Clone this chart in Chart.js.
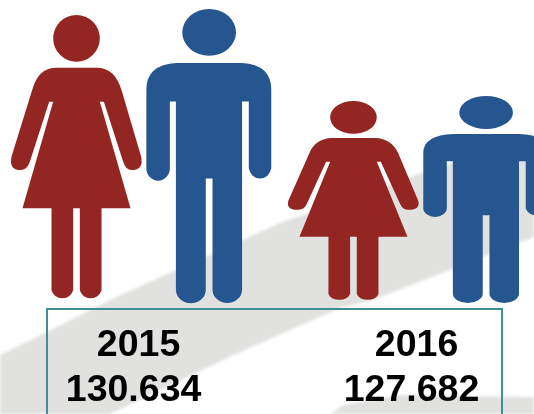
<!DOCTYPE html>
<html><head><meta charset="utf-8">
<style>html,body{margin:0;padding:0;background:#fff}#w{width:534px;height:414px;position:relative;overflow:hidden}canvas{display:block}</style>
<script src="https://cdn.jsdelivr.net/npm/chart.js@4"></script>
</head><body><div id="w"><canvas id="c" width="558" height="414"></canvas></div>
<script>
const categories = ["2015", "2016"];
const totalLabels = ["130.634", "127.682"];
// figure extents: [feet, top of head], in picture units
const women = [[3, 288], [2, 202]];
const men = [[0, 294], [0, 207]];

const womanColor = "#932522";
const manColor = "#25568f";
const bandColor = "#e1e1e0";
const frameColor = "#3f9095";

const womanIcon = { box: [33, 45, 393, 855], path: new Path2D(
  "M165 203L295 203Q345 205 365 270L424 470Q432 510 395 510Q378 510 370 485L312 305L300 305L392 625L305 625L305 870A33 30 0 0 1 240 870L240 625L220 625L220 870A33 30 0 0 1 155 870L155 625L68 625L160 305L148 305L90 485Q82 510 62 510Q27 510 35 470L97 270Q115 205 165 203Z" +
  "M160 115a70 70 0 1 0 140 0a70 70 0 1 0 -140 0Z") };
const manIcon = { box: [440, 28, 372, 880], path: new Path2D(
  "M530 190L725 190Q812 195 812 270L812 505A34 37 0 0 1 745 505L745 305L725 305L725 868A44 40 0 0 1 637 868L637 535L617 535L617 868A44 40 0 0 1 528 868L528 305L510 305L510 505A35 37 0 0 1 440 505L440 270Q440 195 530 190Z" +
  "M547 98a80 70 0 1 0 160 0a80 70 0 1 0 -160 0Z") };

const upperBand = [[0,355],[47,332],[110,300],[280,223],[534,133],[534,237],[373,300],[340,308],[238,353],[110,414],[0,414]];
const lowerBand = [[330,414],[343,405],[400,395],[534,397],[534,414]];

function fillPoly(ctx, pts) {
  ctx.beginPath();
  pts.forEach((p, i) => i ? ctx.lineTo(p[0], p[1]) : ctx.moveTo(p[0], p[1]));
  ctx.closePath();
  ctx.fill();
}

const backdrop = {
  id: "backdrop",
  beforeDraw(chart) {
    const ctx = chart.ctx;
    ctx.save();
    ctx.fillStyle = "#fff";
    ctx.fillRect(0, 0, chart.width, chart.height);
    ctx.filter = "blur(1.5px)";
    ctx.fillStyle = bandColor;
    fillPoly(ctx, upperBand);
    fillPoly(ctx, lowerBand);
    ctx.restore();
  }
};

const pictograms = {
  id: "pictograms",
  afterDatasetsDraw(chart) {
    const ctx = chart.ctx;
    chart.data.datasets.forEach((ds, di) => {
      chart.getDatasetMeta(di).data.forEach(bar => {
        const [bx, by, bw, bh] = ds.icon.box;
        const left = bar.x - bar.width / 2;
        const h = bar.base - bar.y;
        ctx.save();
        ctx.filter = "blur(0.6px)";
        ctx.translate(left, bar.y);
        ctx.scale(bar.width / bw, h / bh);
        ctx.translate(-bx, -by);
        ctx.fillStyle = ds.iconColor;
        ctx.fill(ds.icon.path);
        ctx.restore();
      });
    });
    // frame and labels
    ctx.save();
    ctx.strokeStyle = frameColor;
    ctx.lineWidth = 2;
    ctx.strokeRect(47, 309, 455, 130);
    ctx.fillStyle = "#000";
    ctx.font = "bold 37.5px 'Liberation Sans', Arial, sans-serif";
    ctx.textAlign = "center";
    ctx.textBaseline = "alphabetic";
    const xs = chart.scales.x;
    categories.forEach((c, i) => {
      const cx = xs.getPixelForValue(i);
      ctx.fillText(c, cx - 4 + i, 356);
      ctx.fillText(totalLabels[i], cx - 9 + i, 401);
    });
    ctx.restore();
  }
};

new Chart(document.getElementById("c"), {
  type: "bar",
  data: {
    labels: categories,
    datasets: [
      { label: "Women", data: women, icon: womanIcon, iconColor: womanColor, backgroundColor: "rgba(0,0,0,0)", barPercentage: 0.989, categoryPercentage: 0.9567 },
      { label: "Men", data: men, icon: manIcon, iconColor: manColor, backgroundColor: "rgba(0,0,0,0)", barPercentage: 0.943, categoryPercentage: 0.9567 }
    ]
  },
  options: {
    responsive: false,
    animation: false,
    layout: { padding: { left: 4.1, right: 0, top: 0, bottom: 0 } },
    plugins: { legend: { display: false }, tooltip: { enabled: false }, title: { display: false } },
    scales: {
      x: { display: false },
      y: { display: false, min: -111, max: 303 }
    }
  },
  plugins: [backdrop, pictograms]
});
</script></body></html>
